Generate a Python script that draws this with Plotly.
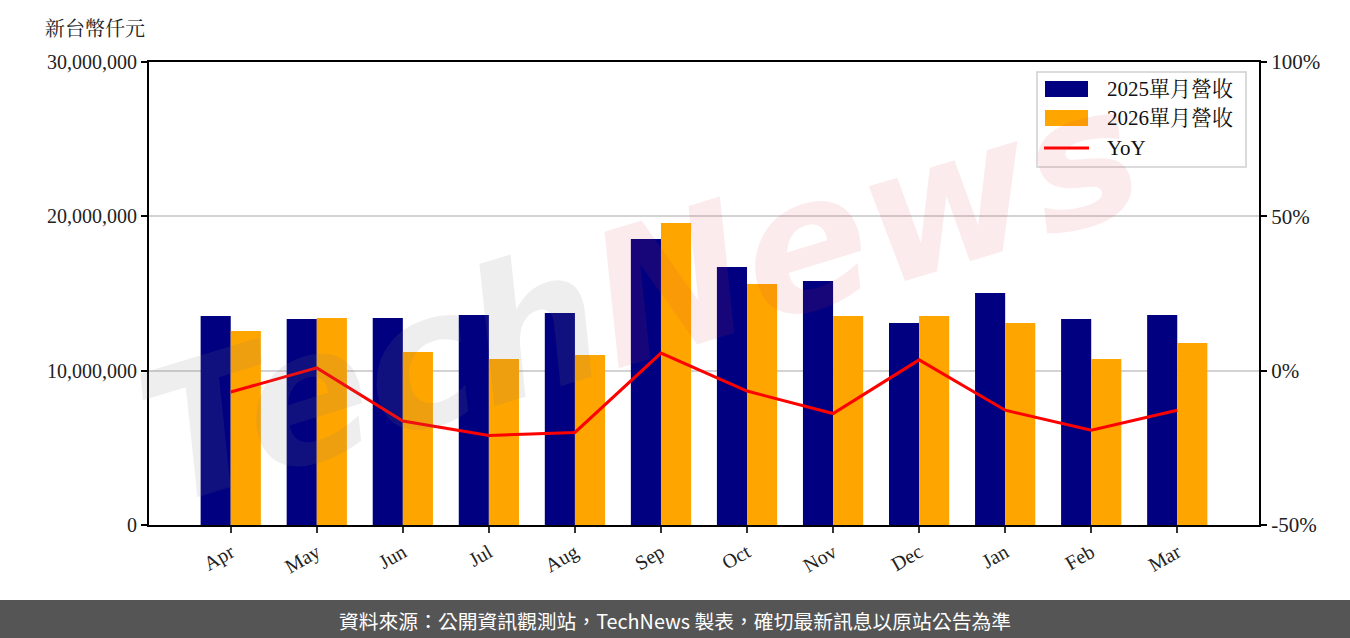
import plotly.graph_objects as go

months = ["Apr", "May", "Jun", "Jul", "Aug", "Sep", "Oct", "Nov", "Dec", "Jan", "Feb", "Mar"]
rev_2025 = [13540000, 13350000, 13410000, 13610000, 13740000, 18530000, 16720000, 15810000, 13090000, 15030000, 13350000, 13610000]
rev_2026 = [12570000, 13410000, 11210000, 10760000, 11020000, 19570000, 15620000, 13540000, 13540000, 13090000, 10760000, 11790000]
yoy = [-6.9, 0.9, -16.3, -21.0, -20.0, 5.7, -6.6, -13.9, 3.5, -12.8, -19.3, -12.8]

left_ticks = [0, 10000000, 20000000, 30000000]
left_labels = ["0", "10,000,000", "20,000,000", "30,000,000"]
right_ticks = [-50, 0, 50, 100]
right_labels = ["-50%", "0%", "50%", "100%"]
series_names = ["2025單月營收", "2026單月營收", "YoY"]
series_colors = ["#000080", "#FFA500", "#FF0000"]

serif = "Liberation Serif, Noto Serif CJK TC, Noto Sans CJK TC, serif"
x = list(range(len(months)))

W, H = 1350, 638
L, R, T, B = 149, 1259, 62, 525


def px(X):
    return (X - L) / (R - L)


def py(Y):
    return (B - Y) / (B - T)


fig = go.Figure()
fig.add_trace(go.Bar(x=x, y=rev_2025, name=series_names[0], marker=dict(color=series_colors[0], line=dict(width=0))))
fig.add_trace(go.Bar(x=x, y=rev_2026, name=series_names[1], marker=dict(color=series_colors[1], line=dict(width=0))))
fig.add_trace(go.Scatter(x=x, y=yoy, name=series_names[2], mode="lines",
                         line=dict(color=series_colors[2], width=3), yaxis="y2"))

fig.update_layout(
    width=W, height=H,
    margin=dict(l=L, r=W - R, t=T, b=H - B),
    paper_bgcolor="white", plot_bgcolor="white",
    barmode="group", bargap=0.3, bargroupgap=0,
    font=dict(family=serif, size=17, color="#222"),
    showlegend=False,
    xaxis=dict(tickmode="array", tickvals=x, ticktext=months, range=[-0.95, 11.95],
               tickangle=-30, ticks="outside", ticklen=6, tickwidth=1.5, tickcolor="#333",
               showline=True, linecolor="black", linewidth=2, mirror=True,
               showgrid=False, zeroline=False, tickfont=dict(family=serif, size=20)),
    yaxis=dict(range=[0, 30000000], tickmode="array", tickvals=left_ticks, ticktext=left_labels,
               ticks="outside", ticklen=6, tickwidth=1.5, tickcolor="black",
               showline=True, linecolor="black", linewidth=2,
               showgrid=True, gridcolor="#d3d3d3", gridwidth=1.5, zeroline=False,
               tickfont=dict(family=serif, size=20)),
    yaxis2=dict(range=[-50, 100], overlaying="y", side="right", tickmode="array",
                tickvals=right_ticks, ticktext=right_labels,
                ticks="outside", ticklen=6, tickwidth=1.5, tickcolor="black",
                showline=True, linecolor="black", linewidth=2,
                showgrid=False, zeroline=False, tickfont=dict(family=serif, size=21)),
)

# y-axis unit label
fig.add_annotation(text="新台幣仟元", xref="paper", yref="paper", x=px(43), y=py(27),
                   xanchor="left", yanchor="middle", showarrow=False,
                   font=dict(family="Noto Serif CJK TC, Noto Sans CJK TC, serif", size=20, color="#222"))

# watermark
fig.add_annotation(text="<i><b><span style='color:rgba(120,120,120,0.13)'>Tech</span><span style='color:rgba(215,60,70,0.10)'>News</span></b></i>",
                   xref="paper", yref="paper", x=px(640), y=py(295), showarrow=False,
                   textangle=-17, font=dict(family="DejaVu Sans, sans-serif", size=185))

# custom legend (matplotlib-like)
fig.add_shape(type="rect", xref="paper", yref="paper", x0=px(1037), x1=px(1246), y0=py(167), y1=py(72),
              fillcolor="rgba(255,255,255,0.8)", line=dict(color="#d0d0d0", width=1.5), layer="above")
for i, yc in enumerate([89, 118]):
    fig.add_shape(type="rect", xref="paper", yref="paper", x0=px(1045), x1=px(1088),
                  y0=py(yc + 8), y1=py(yc - 8), fillcolor=series_colors[i], line=dict(width=0), layer="above")
fig.add_shape(type="line", xref="paper", yref="paper", x0=px(1044), x1=px(1089), y0=py(148), y1=py(148),
              line=dict(color=series_colors[2], width=3), layer="above")
for name, yc in zip(series_names, [89, 118, 148]):
    fig.add_annotation(text=name, xref="paper", yref="paper", x=px(1105), y=py(yc),
                       xanchor="left", yanchor="middle", showarrow=False,
                       font=dict(family=serif, size=21, color="#111"))

# footer band
fig.add_shape(type="rect", xref="paper", yref="paper", x0=px(-10), x1=px(1360), y0=py(645), y1=py(600),
              fillcolor="#555555", line=dict(width=0), layer="above")
fig.add_annotation(text="資料來源：公開資訊觀測站，TechNews 製表，確切最新訊息以原站公告為準",
                   xref="paper", yref="paper", x=px(675), y=py(620), showarrow=False,
                   xanchor="center", yanchor="middle",
                   font=dict(family="Noto Sans CJK TC, sans-serif", size=19.8, color="white"))

fig.write_html("out.html", config={"displayModeBar": False},
               post_script="document.body.style.margin='0';document.body.style.overflow='hidden';")
